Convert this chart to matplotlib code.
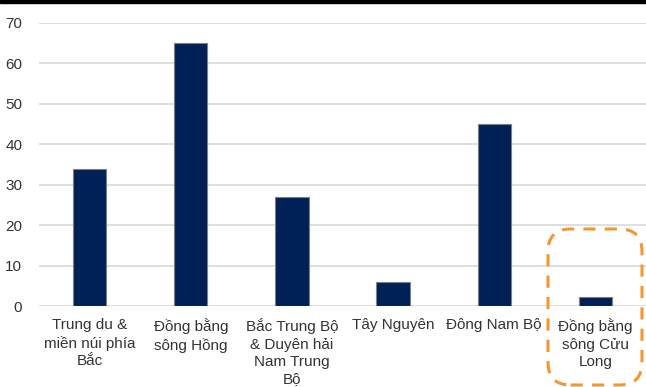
import matplotlib.pyplot as plt
from matplotlib.patches import FancyBboxPatch, Rectangle

plt.rcParams['font.family'] = ['Liberation Sans', 'DejaVu Sans']

# Data
regions = ['Trung du &\nmiền núi phía\nBắc', 'Đồng bằng\nsông Hồng',
           'Bắc Trung Bộ\n& Duyên hải\nNam Trung\nBộ', 'Tây Nguyên',
           'Đông Nam Bộ', 'Đồng bằng\nsông Cửu\nLong']
values = [34, 65, 27, 6, 45, 2.2]
yticks = [0, 10, 20, 30, 40, 50, 60, 70]

fig = plt.figure(figsize=(6.46, 3.87), dpi=100)
ax = fig.add_axes([39 / 646, 81 / 387, 607 / 646, 283 / 387])

x = range(len(regions))
ax.bar(x, values, width=0.33, color='#002157', edgecolor='#7f7f7f',
       linewidth=0.8, zorder=3)

ax.set_xlim(-0.5, 5.5)
ax.set_ylim(0, 70)
ax.set_yticks(yticks)
ax.set_yticklabels([str(v) for v in yticks], fontsize=11, color='#333333')
ax.set_xticks(list(x))
ax.set_xticklabels(regions, fontsize=11, color='#333333', linespacing=1.28,
                   va='top')
ax.tick_params(length=0, axis='both')
ax.tick_params(axis='y', pad=12)
ax.tick_params(axis='x', pad=9)
ax.grid(axis='y', color='#d9d9d9', linewidth=1.2, zorder=0)
ax.set_axisbelow(True)
for s in ax.spines.values():
    s.set_visible(False)

# black strip along the top edge
fig.patches.append(Rectangle((0, 1 - 3 / 387), 1, 3 / 387,
                             transform=fig.transFigure, color='black'))

# dashed highlight box around the last category
box = FancyBboxPatch((548 / 646, 2 / 387), 94 / 646, 156 / 387,
                     boxstyle='round,pad=0,rounding_size=0.035',
                     transform=fig.transFigure, fill=False,
                     edgecolor='#f7962f', linewidth=2.2,
                     linestyle=(0, (4, 3)), mutation_aspect=646 / 387)
fig.patches.append(box)

fig.savefig('out.png', dpi=100)
